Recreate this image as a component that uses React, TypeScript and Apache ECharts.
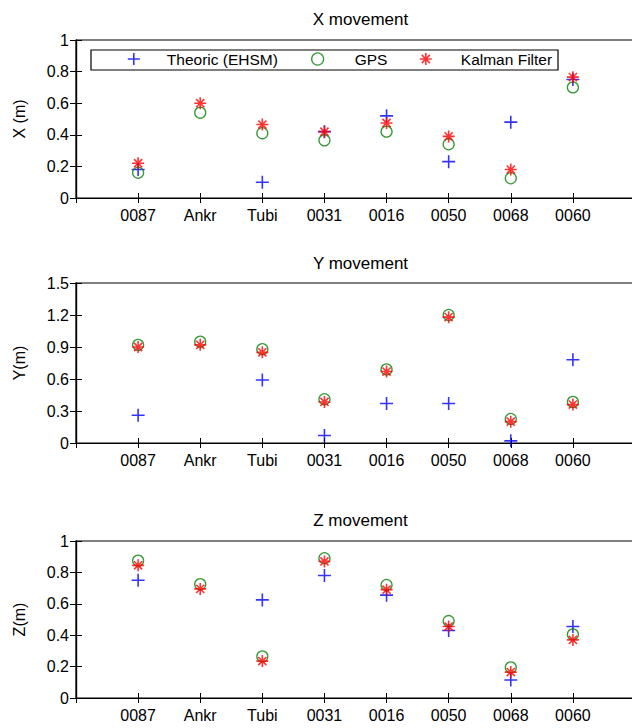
import React, { useEffect, useRef } from "react";
import * as echarts from "echarts";

const CATEGORIES = ["0087", "Ankr", "Tubi", "0031", "0016", "0050", "0068", "0060"];

const X_THEORIC = [0.18, null, 0.1, 0.42, 0.52, 0.23, 0.48, 0.75];
const X_GPS = [0.16, 0.54, 0.41, 0.365, 0.42, 0.34, 0.125, 0.7];
const X_KALMAN = [0.22, 0.6, 0.465, 0.42, 0.475, 0.39, 0.18, 0.765];

const Y_THEORIC = [0.26, null, 0.59, 0.07, 0.37, 0.37, 0.02, 0.78];
const Y_GPS = [0.92, 0.95, 0.88, 0.41, 0.69, 1.2, 0.225, 0.385];
const Y_KALMAN = [0.9, 0.92, 0.85, 0.385, 0.67, 1.18, 0.2, 0.36];

const Z_THEORIC = [0.75, null, 0.625, 0.78, 0.655, 0.43, 0.115, 0.455];
const Z_GPS = [0.875, 0.725, 0.265, 0.89, 0.72, 0.49, 0.195, 0.405];
const Z_KALMAN = [0.845, 0.695, 0.235, 0.87, 0.69, 0.455, 0.165, 0.37];

const PANEL_TITLES = ["X movement", "Y movement", "Z movement"];
const PANEL_YNAMES = ["X (m)", "Y(m)", "Z(m)"];
const PANEL_YMAX = [1, 1.5, 1];
const PANEL_YINTERVAL = [0.2, 0.3, 0.2];
const SERIES_NAMES = ["Theoric (EHSM)", "GPS", "Kalman Filter"];

const FONT = "'Liberation Sans', Arial, sans-serif";
const FS = 16;
const FS_TITLE = 17;
const FS_LEGEND = 15.5;
const PLUS = "path://M5,0L5,10M0,5L10,5";
const STAR = "path://M5,0L5,10M0,5L10,5M1.6,1.6L8.4,8.4M1.6,8.4L8.4,1.6";

const GRID_LEFT = 76;
const GRID_WIDTH = 559;
const GRID_TOPS = [40, 283, 541];
const GRID_HEIGHTS = [158, 160, 157];
const TITLE_TOPS = [6, 250, 507];

export default function App() {
  const ref = useRef<HTMLDivElement>(null);

  useEffect(() => {
    if (!ref.current) return;
    const chart = echarts.init(ref.current, null, { renderer: "svg" });

    const panels = [
      [X_THEORIC, X_GPS, X_KALMAN],
      [Y_THEORIC, Y_GPS, Y_KALMAN],
      [Z_THEORIC, Z_GPS, Z_KALMAN],
    ];

    const toData = (vals: (number | null)[]) =>
      vals
        .map((v, i) => (v === null ? null : [i + 1, v]))
        .filter((d) => d !== null);

    const styles = [
      { symbol: PLUS, symbolSize: 13, itemStyle: { color: "#0000ff", borderColor: "#0000ff", borderWidth: 1.6 } },
      { symbol: "circle", symbolSize: 11, itemStyle: { color: "rgba(0,0,0,0)", borderColor: "#008000", borderWidth: 1.3 } },
      { symbol: STAR, symbolSize: 12, itemStyle: { color: "#ff0000", borderColor: "#ff0000", borderWidth: 1.6 } },
    ];

    const grid: any[] = [];
    const xAxis: any[] = [];
    const yAxis: any[] = [];
    const series: any[] = [];
    const title: any[] = [];

    const tickStyle = { color: "#000", width: 1 };
    const lineStyle = { color: "#000", width: 1.2 };

    panels.forEach((panel, p) => {
      grid.push({
        left: GRID_LEFT,
        top: GRID_TOPS[p],
        width: GRID_WIDTH,
        height: GRID_HEIGHTS[p],
        show: true,
        borderColor: "#000",
        borderWidth: 1.2,
        backgroundColor: "#fff",
      });
      title.push({
        text: PANEL_TITLES[p],
        left: GRID_LEFT + GRID_WIDTH / 2,
        top: TITLE_TOPS[p],
        textAlign: "center",
        textStyle: { fontFamily: FONT, fontSize: FS_TITLE, fontWeight: "normal", color: "#000" },
      });
      const xBase = {
        gridIndex: p,
        type: "value",
        min: 0,
        max: 9,
        interval: 1,
        axisLine: { show: true, lineStyle },
        axisTick: { show: true, inside: true, length: 5, lineStyle: tickStyle },
        splitLine: { show: false },
      };
      xAxis.push({
        ...xBase,
        position: "bottom",
        axisLabel: {
          show: true,
          margin: 9,
          fontSize: FS,
          fontFamily: FONT,
          color: "#000",
          formatter: (v: number) => CATEGORIES[v - 1] ?? "",
        },
      });
      xAxis.push({ ...xBase, position: "top", axisLabel: { show: false } });
      const yBase = {
        gridIndex: p,
        type: "value",
        min: 0,
        max: PANEL_YMAX[p],
        interval: PANEL_YINTERVAL[p],
        axisLine: { show: true, lineStyle },
        axisTick: { show: true, inside: true, length: 6, lineStyle: tickStyle },
        splitLine: { show: false },
      };
      yAxis.push({
        ...yBase,
        position: "left",
        name: PANEL_YNAMES[p],
        nameLocation: "middle",
        nameGap: 49,
        nameTextStyle: { fontFamily: FONT, fontSize: FS, color: "#000" },
        axisLabel: { show: true, margin: 7, fontSize: FS, fontFamily: FONT, color: "#000" },
      });
      yAxis.push({ ...yBase, position: "right", axisLabel: { show: false } });

      panel.forEach((vals, s) => {
        series.push({
          name: SERIES_NAMES[s],
          type: "scatter",
          xAxisIndex: p * 2,
          yAxisIndex: p * 2,
          data: toData(vals),
          symbol: styles[s].symbol,
          symbolSize: styles[s].symbolSize,
          itemStyle: styles[s].itemStyle,
          emphasis: { disabled: true },
          z: 2 + s,
        });
      });
    });

    const legendPos = [
      { left: 127, pad: 22 },
      { left: 311, pad: 26 },
      { left: 419, pad: 24 },
    ];
    const legend = SERIES_NAMES.map((name, s) => ({
      data: [{ name, icon: styles[s].symbol }],
      left: legendPos[s].left,
      top: 51,
      padding: 0,
      itemWidth: 12,
      itemHeight: 12,
      selectedMode: false,
      itemStyle: styles[s].itemStyle,
      textStyle: {
        fontFamily: FONT,
        fontSize: FS_LEGEND,
        color: "#000",
        padding: [0, 0, 0, legendPos[s].pad],
      },
      z: 10,
    }));

    chart.setOption({
      animation: false,
      backgroundColor: "#fff",
      title,
      grid,
      xAxis,
      yAxis,
      series,
      legend,
      graphic: [
        {
          type: "rect",
          z: 8,
          shape: { x: 91, y: 50, width: 467, height: 20 },
          style: { fill: "#fff", stroke: "#000", lineWidth: 1.2 },
        },
      ],
    });

    return () => chart.dispose();
  }, []);

  return (
    <div
      style={{
        position: "fixed",
        left: 0,
        top: 0,
        width: 632,
        height: 728,
        overflow: "hidden",
        background: "#fff",
      }}
    >
      <div ref={ref} style={{ width: 640, height: 728 }} />
    </div>
  );
}
